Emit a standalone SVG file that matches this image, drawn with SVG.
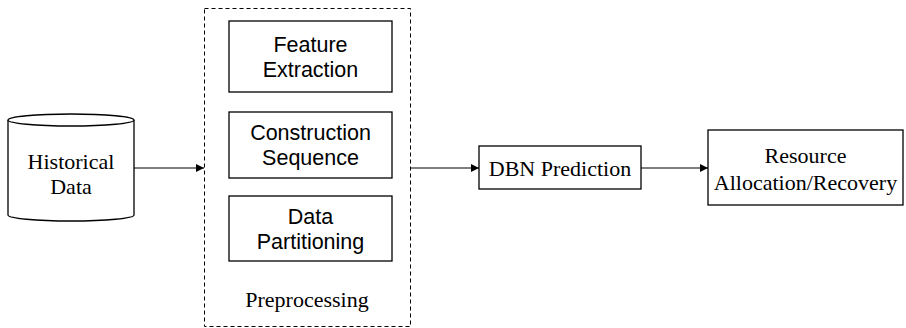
<svg xmlns="http://www.w3.org/2000/svg" width="906" height="328" viewBox="0 0 906 328">
  <style>
    .box { fill: #fff; stroke: #000; stroke-width: 1.3; }
    .serif { font-family: "Liberation Serif", "Times New Roman", serif; font-size: 22px; fill: #000; text-anchor: middle; }
    .sans { font-family: "Liberation Sans", Arial, sans-serif; font-size: 21.5px; fill: #000; text-anchor: middle; }
    .link { fill: none; stroke: #000; stroke-width: 1; }
  </style>
  <defs>
    <marker id="arrow" viewBox="0 0 10 10" refX="10" refY="5" markerWidth="8" markerHeight="8" markerUnits="userSpaceOnUse" orient="auto">
      <path d="M0,0 L10,5 L0,10 z" fill="#000"/>
    </marker>
  </defs>
  <rect width="906" height="328" fill="#fff"/>

  <!-- Data source cylinder -->
  <g id="historical-data">
    <path class="box" d="M8,120 L8,215 A63,6 0 0 0 134,215 L134,120"/>
    <ellipse class="box" cx="71" cy="120" rx="63" ry="6"/>
    <text class="serif" x="71" y="169">Historical</text>
    <text class="serif" x="71" y="194">Data</text>
  </g>

  <!-- Preprocessing container -->
  <g id="preprocessing">
    <rect x="204.5" y="8.5" width="206" height="318" fill="none" stroke="#000" stroke-width="1" stroke-dasharray="4,3"/>
    <text class="serif" x="307" y="307">Preprocessing</text>
  </g>

  <g id="feature-extraction">
    <rect class="box" x="229" y="21" width="163" height="71"/>
    <text class="sans" x="310.5" y="52">Feature</text>
    <text class="sans" x="310.5" y="77">Extraction</text>
  </g>

  <g id="construction-sequence">
    <rect class="box" x="229" y="112" width="163" height="66"/>
    <text class="sans" x="310.5" y="140">Construction</text>
    <text class="sans" x="310.5" y="165">Sequence</text>
  </g>

  <g id="data-partitioning">
    <rect class="box" x="229" y="196" width="163" height="65"/>
    <text class="sans" x="310.5" y="224">Data</text>
    <text class="sans" x="310.5" y="249">Partitioning</text>
  </g>

  <g id="dbn-prediction">
    <rect class="box" x="479" y="146" width="162" height="43"/>
    <text class="serif" x="560" y="176">DBN Prediction</text>
  </g>

  <g id="resource-allocation">
    <rect class="box" x="708" y="130" width="195" height="75"/>
    <text class="serif" x="805.5" y="163">Resource</text>
    <text class="serif" x="805.5" y="190">Allocation/Recovery</text>
  </g>

  <!-- Connectors -->
  <g id="connectors">
    <line class="link" x1="134" y1="168" x2="204" y2="168" marker-end="url(#arrow)"/>
    <line class="link" x1="411" y1="168" x2="479" y2="168" marker-end="url(#arrow)"/>
    <line class="link" x1="641" y1="168" x2="708" y2="168" marker-end="url(#arrow)"/>
  </g>
</svg>
